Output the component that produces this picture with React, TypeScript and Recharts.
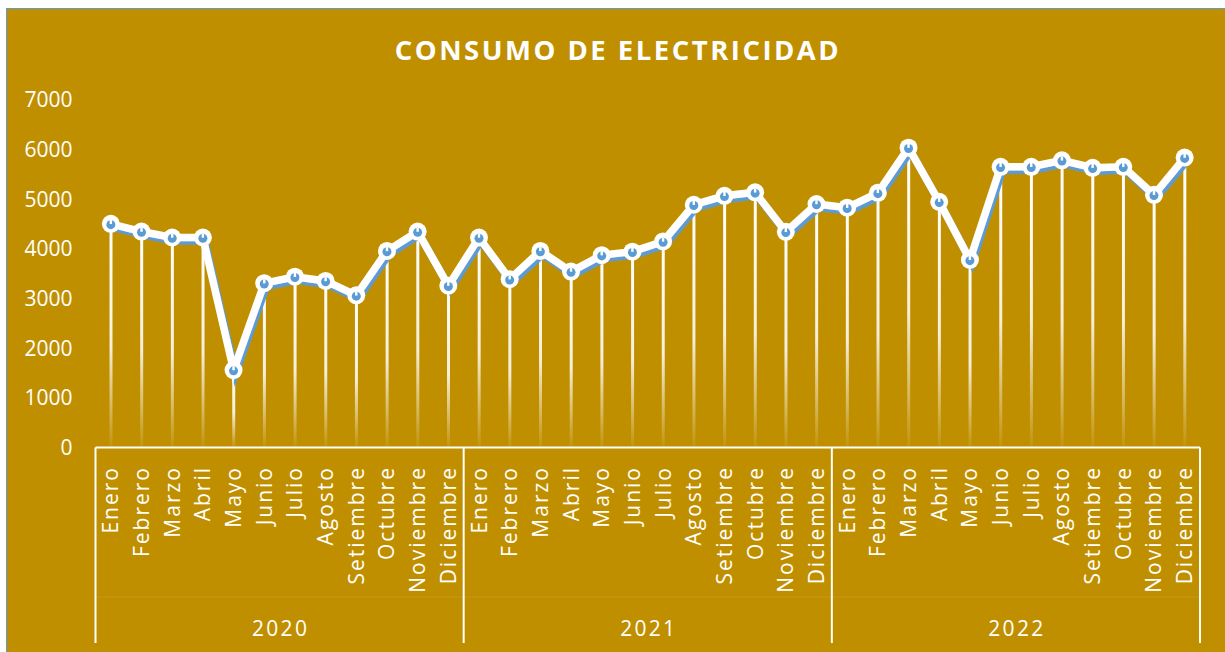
import React from 'react';
import { ComposedChart, Line, Bar, XAxis, YAxis } from 'recharts';

const months = ['Enero', 'Febrero', 'Marzo', 'Abril', 'Mayo', 'Junio', 'Julio', 'Agosto', 'Setiembre', 'Octubre', 'Noviembre', 'Diciembre'];
const years = ['2020', '2021', '2022'];
const consumo2020 = [4505, 4350, 4230, 4230, 1560, 3310, 3440, 3355, 3065, 3960, 4350, 3260];
const consumo2021 = [4230, 3390, 3960, 3545, 3875, 3945, 4150, 4890, 5070, 5140, 4345, 4905];
const consumo2022 = [4830, 5130, 6040, 4950, 3780, 5655, 5655, 5785, 5635, 5655, 5090, 5840];
const yTicks = [0, 1000, 2000, 3000, 4000, 5000, 6000, 7000];
const title = 'CONSUMO DE ELECTRICIDAD';

const series = [consumo2020, consumo2021, consumo2022];
const data = years.flatMap((yr, yi) =>
  months.map((m, mi) => ({ key: `${yr}-${m}`, month: m, year: yr, value: series[yi][mi] }))
);

const W = 1225;
const H = 652;
const LEFT = 95.5;
const RIGHT = 25;
const BAND = (W - LEFT - RIGHT) / data.length;
const GOLD = '#BF8F00';
const BLUE = '#5B9BD5';
const FONT = '"Open Sans", sans-serif';

const MonthTick = (props: any) => {
  const { x, y, payload } = props;
  const i = payload.index;
  const row = data[i];
  const tx = x + 7.5;
  const ty = y + 18.5;
  return (
    <g>
      <text
        x={tx}
        y={ty}
        transform={`rotate(-90, ${tx}, ${ty})`}
        textAnchor="end"
        fill="#fff"
        fontSize={21}
        fontFamily={FONT}
        style={{ letterSpacing: '2px' }}
      >
        {row.month}
      </text>
      <line x1={x - BAND / 2} x2={x + BAND / 2} y1={y + 149.5} y2={y + 149.5} stroke="rgba(255,255,255,0.1)" strokeWidth={1} />
      {i % 12 === 0 && (
        <line x1={x - BAND / 2} x2={x - BAND / 2} y1={y} y2={y + 195.5} stroke="#fff" strokeWidth={2} />
      )}
      {i === data.length - 1 && (
        <line x1={x + BAND / 2} x2={x + BAND / 2} y1={y} y2={y + 195.5} stroke="#fff" strokeWidth={2} />
      )}
      {i % 12 === 5 && (
        <text
          x={x + BAND / 2 + 1}
          y={y + 188}
          textAnchor="middle"
          fill="#fff"
          fontSize={21}
          fontFamily={FONT}
          style={{ letterSpacing: '2.3px' }}
        >
          {row.year}
        </text>
      )}
    </g>
  );
};

const Marker = (props: any) => {
  const { cx, cy, index } = props;
  if (cx == null || cy == null) return <g key={index} />;
  return (
    <g key={index}>
      <circle cx={cx} cy={cy} r={9} fill="#fff" />
      <circle cx={cx} cy={cy + 0.8} r={4.5} fill={BLUE} />
      <rect x={cx - 1.2} y={cy - 3.8} width={2.4} height={4} fill="#fff" />
    </g>
  );
};

export default function App() {
  return (
    <div style={{ position: 'absolute', left: 0, top: 0, width: W, height: H, background: '#fff', overflow: 'hidden' }}>
      <style>{`.consumo-chart .recharts-line-curve { filter: url(#lineShadow); }`}</style>
      <div
        style={{
          position: 'absolute',
          left: 6,
          top: 8,
          width: W - 6,
          height: H - 8,
          background: GOLD,
          borderLeft: `1.5px solid ${BLUE}`,
          borderTop: `1.5px solid ${BLUE}`,
          boxSizing: 'border-box',
        }}
      />
      <div
        style={{
          position: 'absolute',
          left: 0,
          top: 35.5,
          width: W,
          paddingLeft: 11,
          boxSizing: 'border-box',
          textAlign: 'center',
          color: '#fff',
          fontFamily: FONT,
          fontWeight: 700,
          fontSize: 27.5,
          lineHeight: 1,
          letterSpacing: '2.5px',
          whiteSpace: 'nowrap',
        }}
      >
        {title}
      </div>
      <div className="consumo-chart" style={{ position: 'absolute', left: 0, top: 0 }}>
        <ComposedChart width={W} height={H} data={data} margin={{ top: 100, right: RIGHT, bottom: 9.5, left: 0 }}>
          <defs>
            <linearGradient id="dropGrad" x1="0" y1="0" x2="0" y2="1">
              <stop offset="0%" stopColor="#fff" stopOpacity={1} />
              <stop offset="55%" stopColor="#fff" stopOpacity={0.85} />
              <stop offset="100%" stopColor="#fff" stopOpacity={0.05} />
            </linearGradient>
            <filter id="lineShadow" x="-10%" y="-10%" width="120%" height="130%">
              <feDropShadow dx={2} dy={3.5} stdDeviation={0} floodColor={BLUE} floodOpacity={1} />
            </filter>
          </defs>
          <XAxis
            dataKey="key"
            interval={0}
            height={195}
            tickLine={false}
            tickSize={0}
            tickMargin={0}
            axisLine={{ stroke: '#fff', strokeWidth: 2 }}
            tick={<MonthTick />}
          />
          <YAxis
            domain={[0, 7000]}
            ticks={yTicks}
            width={LEFT}
            axisLine={false}
            tickLine={false}
            tickSize={0}
            tickMargin={23}
            tick={{ fill: '#fff', fontSize: 21, fontFamily: FONT }}
          />
          <Bar dataKey="value" barSize={3} fill="url(#dropGrad)" isAnimationActive={false} />
          <Line
            type="linear"
            dataKey="value"
            stroke="#fff"
            strokeWidth={7.5}
            dot={<Marker />}
            activeDot={false}
            isAnimationActive={false}
          />
        </ComposedChart>
      </div>
    </div>
  );
}
